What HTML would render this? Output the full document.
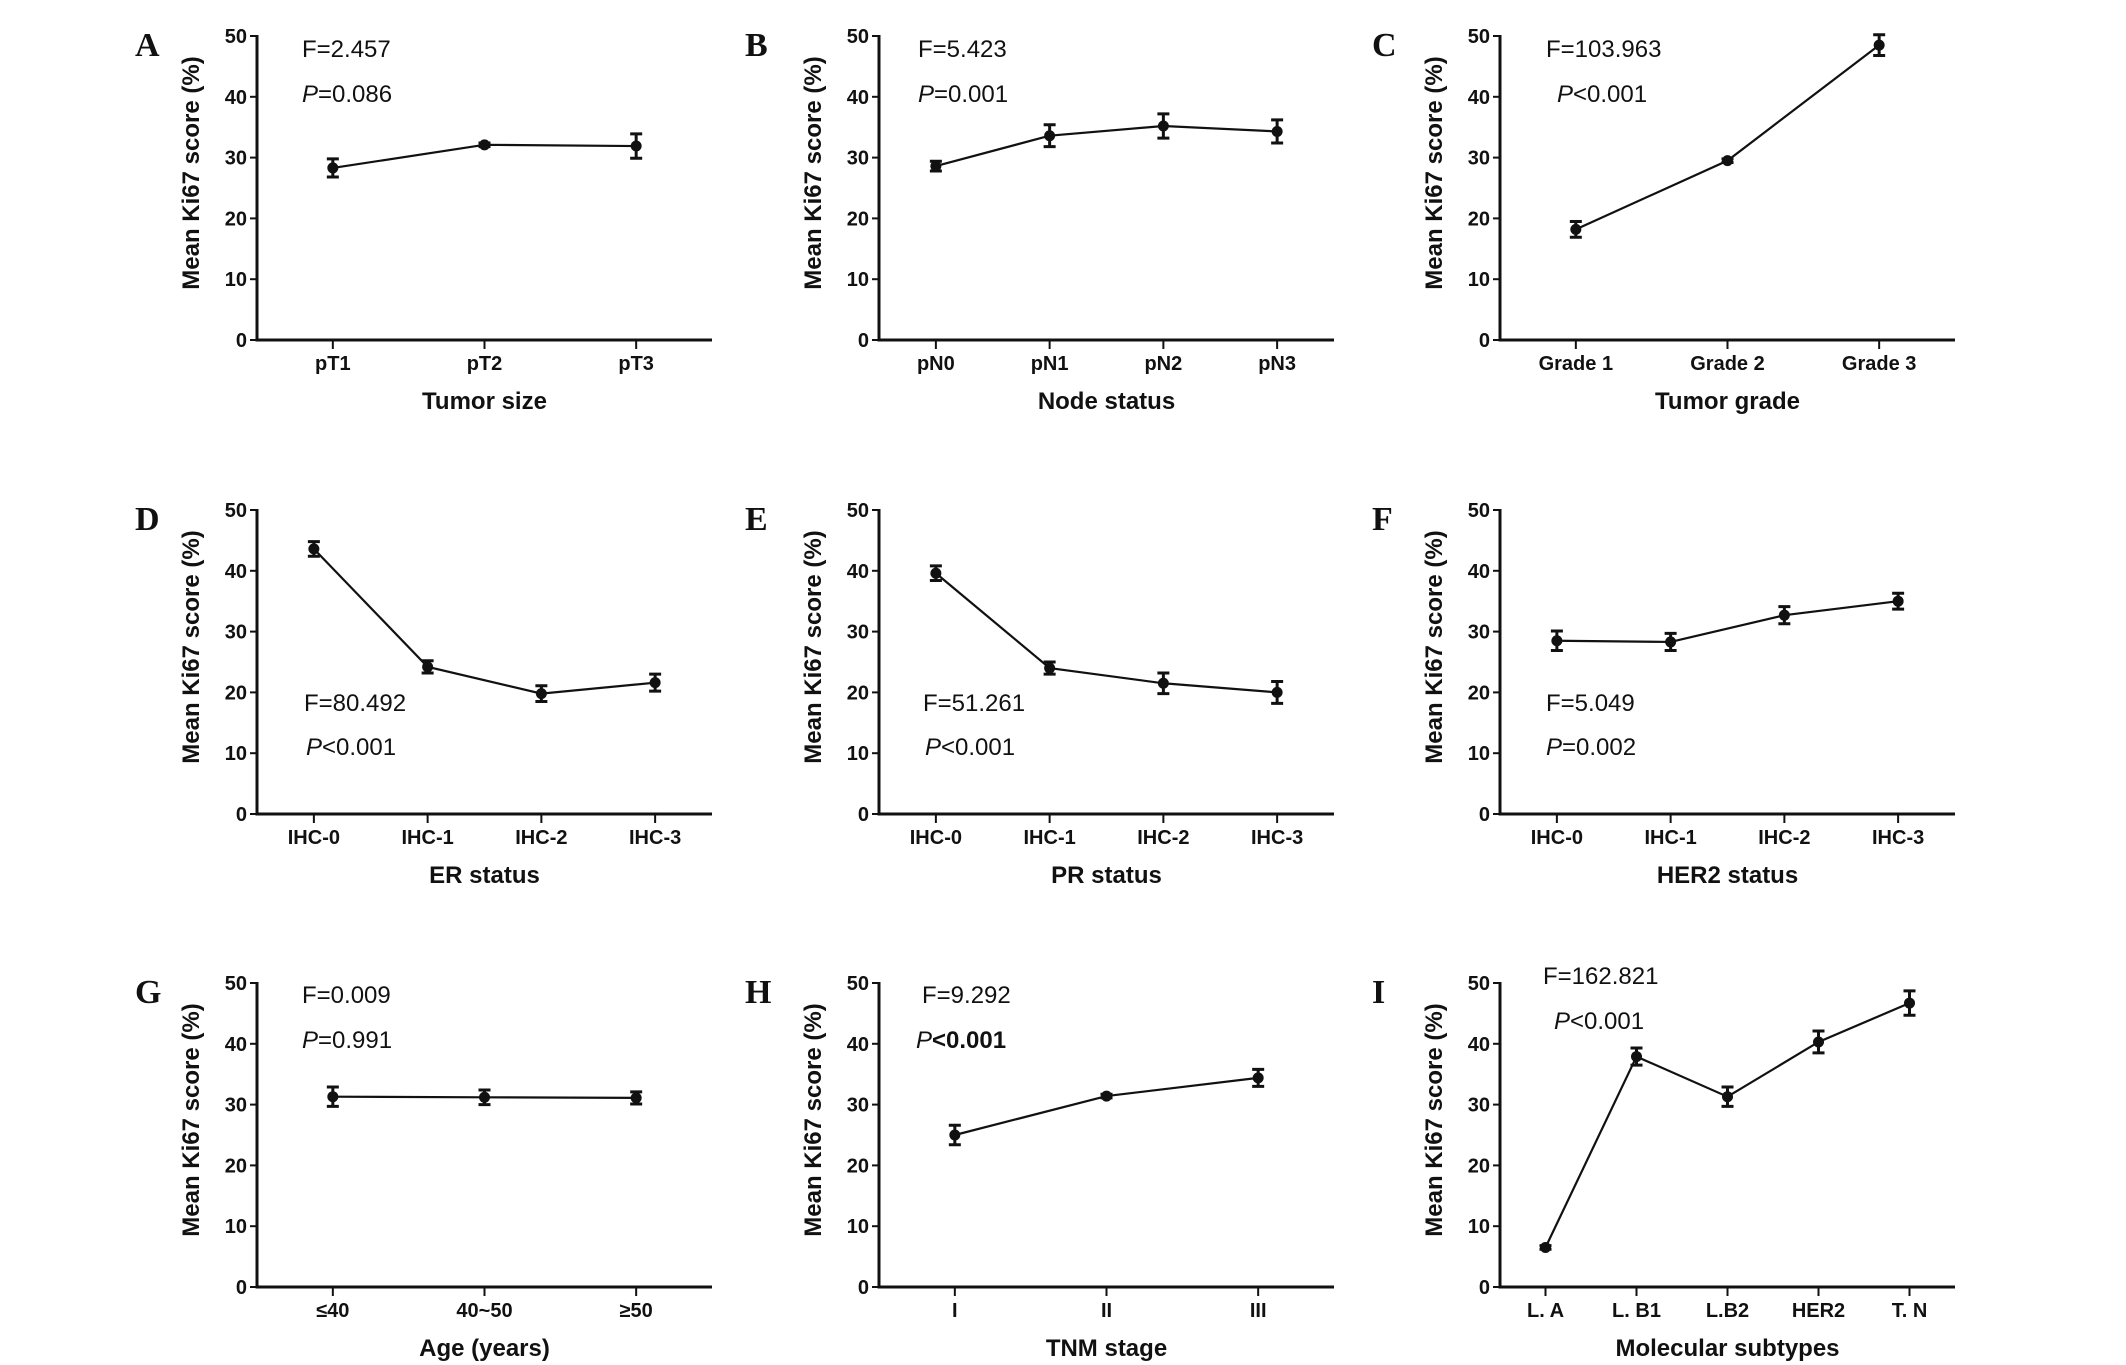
<!DOCTYPE html>
<html><head><meta charset="utf-8"><style>
html,body{margin:0;padding:0;background:#fff;}
svg{display:block;}
.tick{font-family:"Liberation Sans Narrow","Liberation Sans",sans-serif;font-weight:bold;font-size:20px;fill:#111;}
.stat{font-family:"Liberation Sans Narrow","Liberation Sans",sans-serif;font-size:24px;fill:#111;}
.xt{font-family:"Liberation Sans Narrow","Liberation Sans",sans-serif;font-weight:bold;font-size:24px;fill:#111;}
.yt{font-family:"Liberation Sans",sans-serif;font-weight:bold;font-size:24px;fill:#111;}
.lt{font-family:"Liberation Serif",serif;font-weight:bold;font-size:34px;fill:#111;}
</style></head><body>
<svg id="fig" width="2126" height="1365" viewBox="0 0 2126 1365"></svg>
<script>
const panelLetters = ["A","B","C","D","E","F","G","H","I"];
const catsA = ["pT1","pT2","pT3"];
const meanA = [28.3,32.1,31.9];
const errA = [1.5,0.3,2.0];
const catsB = ["pN0","pN1","pN2","pN3"];
const meanB = [28.6,33.6,35.2,34.3];
const errB = [0.8,1.8,2.0,1.9];
const catsC = ["Grade 1","Grade 2","Grade 3"];
const meanC = [18.2,29.5,48.5];
const errC = [1.3,0.3,1.7];
const catsD = ["IHC-0","IHC-1","IHC-2","IHC-3"];
const meanD = [43.6,24.2,19.8,21.6];
const errD = [1.2,1.0,1.3,1.4];
const catsE = ["IHC-0","IHC-1","IHC-2","IHC-3"];
const meanE = [39.6,24.0,21.5,20.0];
const errE = [1.2,1.0,1.7,1.8];
const catsF = ["IHC-0","IHC-1","IHC-2","IHC-3"];
const meanF = [28.5,28.3,32.7,35.0];
const errF = [1.6,1.4,1.4,1.3];
const catsG = ["≤40","40~50","≥50"];
const meanG = [31.3,31.2,31.1];
const errG = [1.6,1.2,1.0];
const catsH = ["I","II","III"];
const meanH = [25.0,31.4,34.4];
const errH = [1.6,0.3,1.4];
const catsI = ["L. A","L. B1","L.B2","HER2","T. N"];
const meanI = [6.5,37.9,31.3,40.3,46.7];
const errI = [0.3,1.4,1.6,1.8,2.0];
const yTicks = [0,10,20,30,40,50];
const xTitles = ["Tumor size","Node status","Tumor grade","ER status","PR status","HER2 status","Age (years)","TNM stage","Molecular subtypes"];
const fTexts = ["F=2.457","F=5.423","F=103.963","F=80.492","F=51.261","F=5.049","F=0.009","F=9.292","F=162.821"];
const pOps = ["=0.086","=0.001","<0.001","<0.001","<0.001","=0.002","=0.991","<0.001","<0.001"];

const NS="http://www.w3.org/2000/svg";
const svg=document.getElementById('fig');
function mk(tag,attrs,parent){const e=document.createElementNS(NS,tag);for(const k in attrs)e.setAttribute(k,attrs[k]);(parent||svg).appendChild(e);return e;}

const colX=[257,879,1500];
const rowTop=[36,510,983];
const W=455,H=304;
const statPos=[[45,21],[39,21],[46,21],[47,201],[44,201],[46,201],[45,20],[43,20],[43,1]];
const pIndent=[0,0,11,2,2,0,0,-6,11];
const pGap=[45,45,45,44,44,44,45,45,45];
const letterDx=[-122,-134,-128,-122,-134,-128,-122,-134,-128];
const panels=[[catsA,meanA,errA],[catsB,meanB,errB],[catsC,meanC,errC],[catsD,meanD,errD],[catsE,meanE,errE],[catsF,meanF,errF],[catsG,meanG,errG],[catsH,meanH,errH],[catsI,meanI,errI]];

panels.forEach((p,idx)=>{
  const cats=p[0],means=p[1],errs=p[2];
  const ax=colX[idx%3], top=rowTop[Math.floor(idx/3)], bot=top+H;
  const g=mk('g',{});
  
  
  const yS=v=>bot-(v/50)*H;
  const xS=i=>ax+(i+0.5)*W/cats.length;
  const lt=mk('text',{x:ax+letterDx[idx],y:top+20,class:'lt'},g);lt.textContent=panelLetters[idx];
  
  
  const ya=mk('line',{x1:ax,y1:top-1,x2:ax,y2:bot+1.5,stroke:'#111','stroke-width':3},g);
  
  
  const xa=mk('line',{x1:ax-1.5,y1:bot,x2:ax+W,y2:bot,stroke:'#111','stroke-width':3},g);
  
  
  yTicks.forEach(t=>{
    mk('line',{x1:ax-7,y1:yS(t),x2:ax,y2:yS(t),stroke:'#111','stroke-width':2},g);
    const tl=mk('text',{x:ax-10,y:yS(t)+7,'text-anchor':'end',class:'tick'},g);tl.textContent=t;
    
    
  });
  cats.forEach((c,i)=>{
    mk('line',{x1:xS(i),y1:bot,x2:xS(i),y2:bot+9,stroke:'#111','stroke-width':2},g);
    const tl=mk('text',{x:xS(i),y:bot+30,'text-anchor':'middle',class:'tick'},g);tl.textContent=c;
    
    
  });
  const xt=mk('text',{x:ax+W/2,y:bot+69,'text-anchor':'middle',class:'xt'},g);xt.textContent=xTitles[idx];
  
  
  const yt=mk('text',{x:0,y:0,'text-anchor':'middle',class:'yt',transform:`translate(${ax-58},${top+137}) rotate(-90)`},g);yt.textContent='Mean Ki67 score (%)';
  
  
  const pts=means.map((m,i)=>xS(i)+','+yS(m)).join(' ');
  const pl=mk('polyline',{points:pts,fill:'none',stroke:'#111','stroke-width':2.2},g);
  
  
  means.forEach((m,i)=>{
    const x=xS(i),e=errs[i];
    const eb=mk('path',{d:`M${x},${yS(m+e)}V${yS(m-e)}M${x-6},${yS(m+e)}H${x+6}M${x-6},${yS(m-e)}H${x+6}`,stroke:'#111','stroke-width':3,fill:'none'},g);
    
    
    const c=mk('circle',{cx:x,cy:yS(m),r:5.5,fill:'#111'},g);
    
    
  });
  const sp=statPos[idx];
  const ft=mk('text',{x:ax+sp[0],y:top+sp[1],class:'stat'},g);ft.textContent=fTexts[idx];
  
  
  const pt=mk('text',{x:ax+sp[0]+pIndent[idx],y:top+sp[1]+pGap[idx],class:'stat'},g);
  
  
  const ps=mk('tspan',{'font-style':'italic'},pt);ps.textContent='P';
  const pv=mk('tspan',{},pt);pv.textContent=pOps[idx];
  if(idx===7)pv.setAttribute('font-weight','bold');
});
</script>
</body></html>
